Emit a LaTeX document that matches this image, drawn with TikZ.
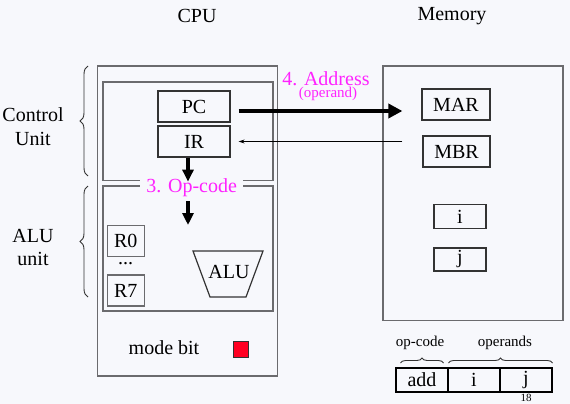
\documentclass[tikz,border=0pt]{standalone}
\usepackage{fontspec}
\setmainfont{LiberationSerif}[Extension=.ttf, UprightFont=*-Regular, BoldFont=*-Bold, ItalicFont=*-Italic, BoldItalicFont=*-BoldItalic]
\usetikzlibrary{arrows.meta,decorations.pathreplacing,calc}
\definecolor{bgc}{HTML}{F7F8FC}
\definecolor{boxgray}{HTML}{6B6B6E}
\definecolor{regc}{HTML}{333333}
\definecolor{mag}{HTML}{FF22FF}
\definecolor{modered}{HTML}{FF0022}
\tikzset{
  txt/.style={font=\fontsize{20}{22}\selectfont, inner sep=0pt},
  smalltxt/.style={font=\fontsize{15}{17}\selectfont, inner sep=0pt},
  bigbox/.style={draw=boxgray, line width=1.8pt},
  regbox/.style={draw=regc, line width=1.2pt, minimum width=72pt, minimum height=31pt, font=\fontsize{20}{22}\selectfont, inner sep=0pt},
  rbox/.style={draw=boxgray, line width=1.2pt, minimum width=37pt, minimum height=31pt, font=\fontsize{20}{22}\selectfont, inner sep=0pt},
  membox/.style={draw=regc, line width=1.2pt, minimum width=52pt, minimum height=24pt, font=\fontsize{20}{22}\selectfont, inner sep=0pt},
  bigarrow/.style={line width=4.2pt, -{Triangle[length=14pt,width=14pt]}},
  downarrow/.style={line width=4pt, -{Triangle[length=12pt,width=11pt]}},
  thinarrow/.style={line width=0.8pt, -{Stealth[length=6pt,width=4pt]}},
  brc/.style={decorate, line width=0.9pt, draw=black!80},
  cell/.style={draw=black, line width=1.2pt, minimum width=52pt, minimum height=24pt, font=\fontsize{20}{22}\selectfont, inner sep=0pt},
}
\begin{document}
\begin{tikzpicture}[x=1pt,y=-1pt]
\fill[bgc] (0,0) rectangle (570,404);
\useasboundingbox (0,0) rectangle (570,404);

% titles
\node[txt] (cpu) at (197,16) {CPU};
\node[txt] (mem) at (452,16) {Memory};

% CPU boxes
\draw[bigbox] (97.5,66) rectangle (277.5,376);
\draw[bigbox] (103,82) rectangle (272.7,180.5);
\draw[bigbox] (103,186) rectangle (272.7,310.7);

% side labels
\node[txt] (ctl1) at (33,115) {Control};
\node[txt] (ctl2) at (33,139) {Unit};
\node[txt] (alu1) at (33,236) {ALU};
\node[txt] (alu2) at (33,259) {unit};
\draw[brc, decoration={brace, amplitude=8pt}] (88,176) -- (88,66);
\draw[brc, decoration={brace, amplitude=8pt}] (88,297) -- (88,186);

% registers
\node[regbox] (PC) at (194,106.5) {PC};
\node[regbox] (IR) at (194,141.5) {IR};

\node[txt, fill=bgc, text=mag, inner xsep=6pt, inner ysep=2pt] (op) at (191.7,188) {3. Op-code};

\draw[downarrow] ([xshift=-6pt]IR.south) -- ++(0,24);
\coordinate (optop) at (188,201);
\draw[downarrow] (optop) -- ++(0,24);

\node[rbox] (R0) at (125.7,241) {R0};
\node[txt] (dots) at (125.7,264) {...};
\node[rbox] (R7) at (125.7,290.5) {R7};

\draw[draw=regc, line width=1.2pt] (193,251) -- (263,251) -- (246,297) -- (210,297) -- cycle;
\node[txt] (ALU) at (229,272) {ALU};

\node[txt] (mode) at (164,348) {mode bit};
\draw[fill=modered, draw=regc, line width=1pt] (233,341) rectangle (248,357);

% memory
\draw[bigbox] (383,66) rectangle (563,320.5);
\node[regbox, minimum width=68pt] (MAR) at (456,104.5) {MAR};
\node[regbox, minimum width=67pt] (MBR) at (456.5,151.5) {MBR};
\node[membox] (mi) at (460,216.5) {i};
\node[membox, minimum height=23pt] (mj) at (460,259.5) {j};

% arrows between CPU and memory
\draw[bigarrow, shorten <=8pt, shorten >=19pt] ([yshift=-4.5pt]PC.east) -- ([yshift=-4.5pt]PC.east -| MAR.west);
\draw[thinarrow, shorten <=20pt, shorten >=8pt] (IR.east -| MBR.west) -- (IR.east);
\node[txt, text=mag] (addr) at (326,78.5) {4. Address};
\node[smalltxt, text=mag] (opnd) at (328,94) {(operand)};

% instruction format
\node[cell] (cadd) at (422,380) {add};
\node[cell] (ci) at (474,380) {i};
\node[cell] (cj) at (526,380) {j};
\node[smalltxt] (lopc) at (420,343) {op-code};
\node[smalltxt] (lopr) at (505,343) {operands};
\draw[brc, decoration={brace, amplitude=5pt}] (400.5,363) -- (443.5,363);
\draw[brc, decoration={brace, amplitude=5pt}] (448.5,363) -- (552.5,363);
\node[font=\fontsize{11}{12}\selectfont, inner sep=0pt] (pg) at (526,397.5) {18};
\end{tikzpicture}
\end{document}
